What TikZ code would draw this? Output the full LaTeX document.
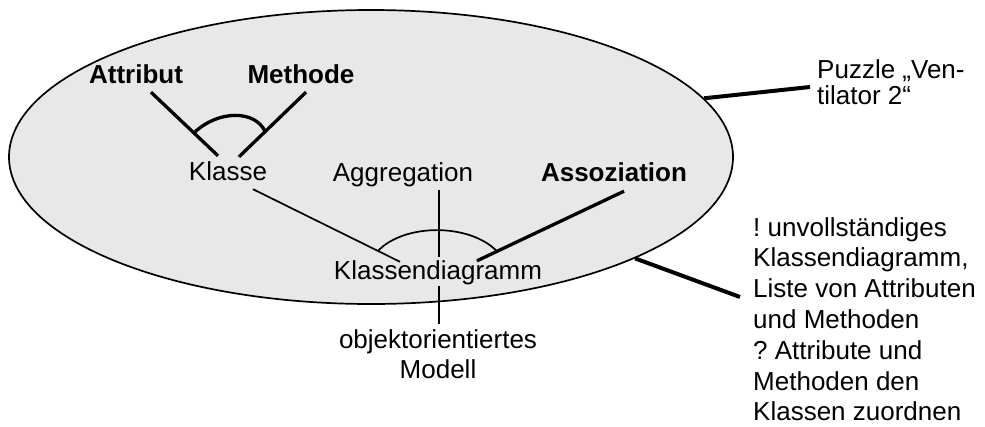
\documentclass[tikz,border=0pt]{standalone}
\usepackage{fontspec}
\setmainfont{Liberation Sans}
\usetikzlibrary{shapes.geometric,calc}
\definecolor{ellfill}{RGB}{232,232,232}
\frenchspacing
\begin{document}
\begin{tikzpicture}[x=1pt,y=-1pt,
  txt/.style={inner sep=0pt, font=\fontsize{26}{30.8}\selectfont},
  lbl/.style={txt, text height=19pt, text depth=5.5pt, anchor=base},
  blbl/.style={lbl, font=\fontsize{26}{30.8}\selectfont\bfseries},
  heavy/.style={line width=3.3pt},
  light/.style={line width=1.7pt},
  lead/.style={line width=4pt},
]
\useasboundingbox (0,0) rectangle (985,426);

% the model as a whole
\node[ellipse, draw, line width=1.7pt, fill=ellfill, inner sep=0pt,
      minimum width=724pt, minimum height=294pt] (world) at (371,157) {};

% concepts
\node[blbl] (attr)   at (136,83)  {Attribut};
\node[blbl] (meth)   at (301,83)  {Methode};
\node[lbl]  (klasse) at (228,180) {Klasse};
\node[lbl]  (aggr)   at (403,181) {Aggregation};
\node[blbl] (asso)   at (614,181) {Assoziation};
\node[lbl]  (kd)     at (438,279) {Klassendiagramm};
\node[txt, align=center, anchor=north] (oo) at (438,329) {objektorientiertes\\Modell};

% side notes
\node[txt, align=left, anchor=north west, font=\fontsize{26}{26.5}\selectfont] (pz) at (817,59) {Puzzle „Ven-\\tilator 2“};
\node[txt, align=left, anchor=north west] (note) at (753,217)
  {! unvollständiges\\Klassendiagramm,\\Liste von Attributen\\und Methoden\\? Attribute und\\Methoden den\\Klassen zuordnen};

% Klasse consists of attributes and methods
\draw[heavy] ($(attr.south)+(15,3.5)$) -- coordinate[pos=0.64] (attrArc) ($(klasse.north)+(-10,-5)$);
\draw[heavy] ($(meth.south)+(5,3.5)$) -- coordinate[pos=0.61] (methArc) ($(klasse.north)+(11,-4)$);
\draw[heavy] (attrArc) .. controls +(24,-23) and +(-10,-22) .. (methArc);

% Klassendiagramm consists of classes and associations
\draw[light] ($(klasse.south)+(25,3.5)$) -- coordinate[pos=0.85] (klArc) ($(kd.north)+(-38,2)$);
\draw[heavy] ($(asso.south)+(10,4.5)$) -- coordinate[pos=0.864] (asArc) ($(kd.north)+(39,1)$);
\draw[light] (klArc) .. controls +(27,-28) and +(-27,-28) .. (asArc);

% Aggregation leads through to the object-oriented model
\draw[light] ($(aggr.south)+(36,3.5)$) -- ($(kd.north)+(1,-3)$);
\draw[light] ($(kd.south)+(1,1.5)$) -- ($(oo.north)+(1,-5)$);

% leaders to the notes
\draw[lead] (world.10) -- ($(pz.north west)+(-7,28)$);
\draw[lead] (world.-21) -- ($(note.north west)+(-13,80)$);
\end{tikzpicture}
\end{document}
